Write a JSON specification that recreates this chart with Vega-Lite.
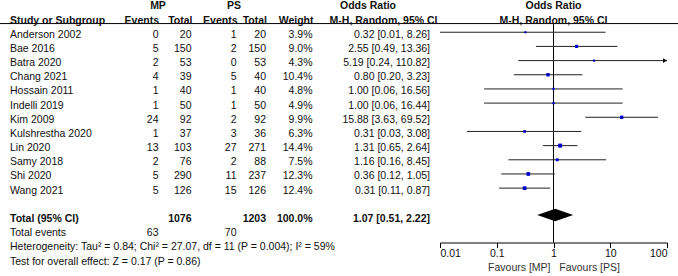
{
  "$schema": "https://vega.github.io/schema/vega-lite/v6.json",
  "width": 678,
  "height": 276,
  "padding": 0,
  "autosize": {"type": "none"},
  "background": "white",
  "config": {
    "view": {"stroke": null},
    "text": {"font": "Liberation Sans", "fontSize": 10.5, "color": "#111"},
    "axis": {"labelFont": "Liberation Sans", "titleFont": "Liberation Sans"}
  },
  "datasets": {
    "studies": [
      {"row": "Anderson 2002", "mp_e": 0, "mp_n": 20, "ps_e": 1, "ps_n": 20, "weight": 0.039, "or": 0.32, "lo": 0.01, "hi": 8.26, "ci": "0.32 [0.01, 8.26]"},
      {"row": "Bae 2016", "mp_e": 5, "mp_n": 150, "ps_e": 2, "ps_n": 150, "weight": 0.090, "or": 2.55, "lo": 0.49, "hi": 13.36, "ci": "2.55 [0.49, 13.36]"},
      {"row": "Batra 2020", "mp_e": 2, "mp_n": 53, "ps_e": 0, "ps_n": 53, "weight": 0.043, "or": 5.19, "lo": 0.24, "hi": 110.82, "ci": "5.19 [0.24, 110.82]"},
      {"row": "Chang 2021", "mp_e": 4, "mp_n": 39, "ps_e": 5, "ps_n": 40, "weight": 0.104, "or": 0.80, "lo": 0.20, "hi": 3.23, "ci": "0.80 [0.20, 3.23]"},
      {"row": "Hossain 2011", "mp_e": 1, "mp_n": 40, "ps_e": 1, "ps_n": 40, "weight": 0.048, "or": 1.00, "lo": 0.06, "hi": 16.56, "ci": "1.00 [0.06, 16.56]"},
      {"row": "Indelli 2019", "mp_e": 1, "mp_n": 50, "ps_e": 1, "ps_n": 50, "weight": 0.049, "or": 1.00, "lo": 0.06, "hi": 16.44, "ci": "1.00 [0.06, 16.44]"},
      {"row": "Kim 2009", "mp_e": 24, "mp_n": 92, "ps_e": 2, "ps_n": 92, "weight": 0.099, "or": 15.88, "lo": 3.63, "hi": 69.52, "ci": "15.88 [3.63, 69.52]"},
      {"row": "Kulshrestha 2020", "mp_e": 1, "mp_n": 37, "ps_e": 3, "ps_n": 36, "weight": 0.063, "or": 0.31, "lo": 0.03, "hi": 3.08, "ci": "0.31 [0.03, 3.08]"},
      {"row": "Lin 2020", "mp_e": 13, "mp_n": 103, "ps_e": 27, "ps_n": 271, "weight": 0.144, "or": 1.31, "lo": 0.65, "hi": 2.64, "ci": "1.31 [0.65, 2.64]"},
      {"row": "Samy 2018", "mp_e": 2, "mp_n": 76, "ps_e": 2, "ps_n": 88, "weight": 0.075, "or": 1.16, "lo": 0.16, "hi": 8.45, "ci": "1.16 [0.16, 8.45]"},
      {"row": "Shi 2020", "mp_e": 5, "mp_n": 290, "ps_e": 11, "ps_n": 237, "weight": 0.123, "or": 0.36, "lo": 0.12, "hi": 1.05, "ci": "0.36 [0.12, 1.05]"},
      {"row": "Wang 2021", "mp_e": 5, "mp_n": 126, "ps_e": 15, "ps_n": 126, "weight": 0.124, "or": 0.31, "lo": 0.11, "hi": 0.87, "ci": "0.31 [0.11, 0.87]"}
    ],
    "total": [
      {"row": "Total (95% CI)", "mp_n": 1076, "ps_n": 1203, "weight": 1.0, "or": 1.07, "lo": 0.51, "hi": 2.22, "ci": "1.07 [0.51, 2.22]"}
    ],
    "events": [
      {"row": "Total events", "mp": 63, "ps": 70}
    ],
    "notes": [
      {"row": "Heterogeneity", "text": "Heterogeneity: Tau² = 0.84; Chi² = 27.07, df = 11 (P = 0.004); I² = 59%"},
      {"row": "Test", "text": "Test for overall effect: Z = 0.17 (P = 0.86)"}
    ],
    "headers": [
      {"row": "h1", "col": "mp", "text": "MP"},
      {"row": "h1", "col": "ps", "text": "PS"},
      {"row": "h1", "col": "or", "text": "Odds Ratio"},
      {"row": "h1", "col": "forest", "text": "Odds Ratio"},
      {"row": "h2", "col": "study", "text": "Study or Subgroup"},
      {"row": "h2", "col": "mp_e", "text": "Events"},
      {"row": "h2", "col": "mp_n", "text": "Total"},
      {"row": "h2", "col": "ps_e", "text": "Events"},
      {"row": "h2", "col": "ps_n", "text": "Total"},
      {"row": "h2", "col": "weight", "text": "Weight"},
      {"row": "h2", "col": "or", "text": "M-H, Random, 95% CI"},
      {"row": "h2", "col": "forest", "text": "M-H, Random, 95% CI"}
    ]
  },
  "encoding": {
    "y": {
      "field": "row", "type": "nominal", "axis": null,
      "scale": {
        "type": "point", "padding": 0, "range": [6.4, 261.5],
        "domain": ["h1", "h2", "Anderson 2002", "Bae 2016", "Batra 2020", "Chang 2021", "Hossain 2011", "Indelli 2019", "Kim 2009", "Kulshrestha 2020", "Lin 2020", "Samy 2018", "Shi 2020", "Wang 2021", "gap", "Total (95% CI)", "Total events", "Heterogeneity", "Test"]
      }
    }
  },
  "layer": [
    {
      "layer": [
        {"data": {"name": "headers"}, "transform": [{"filter": "datum.col == 'study'"}],
         "mark": {"type": "rule", "color": "#000", "strokeWidth": 1, "yOffset": 3},
         "encoding": {"y": {"datum": "h2", "type": "nominal"}}},
        {"data": {"name": "headers"}, "transform": [{"filter": "datum.col == 'study'"}],
         "mark": {"type": "text", "align": "left", "fontWeight": "bold"},
         "encoding": {"x": {"datum": 10, "type": "quantitative", "scale": {"domain": [0, 678]}, "axis": null}, "text": {"field": "text"}}},
        {"data": {"name": "headers"}, "transform": [{"filter": "datum.col == 'mp'"}],
         "mark": {"type": "text", "align": "center", "fontWeight": "bold"},
         "encoding": {"x": {"datum": 158, "type": "quantitative", "scale": {"domain": [0, 678]}, "axis": null}, "text": {"field": "text"}}},
        {"data": {"name": "headers"}, "transform": [{"filter": "datum.col == 'ps'"}],
         "mark": {"type": "text", "align": "center", "fontWeight": "bold"},
         "encoding": {"x": {"datum": 234, "type": "quantitative", "scale": {"domain": [0, 678]}, "axis": null}, "text": {"field": "text"}}},
        {"data": {"name": "headers"}, "transform": [{"filter": "datum.col == 'mp_e'"}],
         "mark": {"type": "text", "align": "right", "fontWeight": "bold"},
         "encoding": {"x": {"datum": 159, "type": "quantitative", "scale": {"domain": [0, 678]}, "axis": null}, "text": {"field": "text"}}},
        {"data": {"name": "headers"}, "transform": [{"filter": "datum.col == 'mp_n'"}],
         "mark": {"type": "text", "align": "right", "fontWeight": "bold"},
         "encoding": {"x": {"datum": 192.5, "type": "quantitative", "scale": {"domain": [0, 678]}, "axis": null}, "text": {"field": "text"}}},
        {"data": {"name": "headers"}, "transform": [{"filter": "datum.col == 'ps_e'"}],
         "mark": {"type": "text", "align": "right", "fontWeight": "bold"},
         "encoding": {"x": {"datum": 237.5, "type": "quantitative", "scale": {"domain": [0, 678]}, "axis": null}, "text": {"field": "text"}}},
        {"data": {"name": "headers"}, "transform": [{"filter": "datum.col == 'ps_n'"}],
         "mark": {"type": "text", "align": "right", "fontWeight": "bold"},
         "encoding": {"x": {"datum": 267, "type": "quantitative", "scale": {"domain": [0, 678]}, "axis": null}, "text": {"field": "text"}}},
        {"data": {"name": "headers"}, "transform": [{"filter": "datum.col == 'weight'"}],
         "mark": {"type": "text", "align": "right", "fontWeight": "bold"},
         "encoding": {"x": {"datum": 313.5, "type": "quantitative", "scale": {"domain": [0, 678]}, "axis": null}, "text": {"field": "text"}}},
        {"data": {"name": "headers"}, "transform": [{"filter": "datum.col == 'or' && datum.row == 'h1'"}],
         "mark": {"type": "text", "align": "center", "fontWeight": "bold"},
         "encoding": {"x": {"datum": 368, "type": "quantitative", "scale": {"domain": [0, 678]}, "axis": null}, "text": {"field": "text"}}},
        {"data": {"name": "headers"}, "transform": [{"filter": "datum.col == 'or' && datum.row == 'h2'"}],
         "mark": {"type": "text", "align": "right", "fontWeight": "bold"},
         "encoding": {"x": {"datum": 437.5, "type": "quantitative", "scale": {"domain": [0, 678]}, "axis": null}, "text": {"field": "text"}}},

        {"data": {"name": "studies"}, "mark": {"type": "text", "align": "left"},
         "encoding": {"x": {"datum": 10, "type": "quantitative", "scale": {"domain": [0, 678]}, "axis": null}, "text": {"field": "row"}}},
        {"data": {"name": "studies"}, "mark": {"type": "text", "align": "right"},
         "encoding": {"x": {"datum": 158.5, "type": "quantitative", "scale": {"domain": [0, 678]}, "axis": null}, "text": {"field": "mp_e"}}},
        {"data": {"name": "studies"}, "mark": {"type": "text", "align": "right"},
         "encoding": {"x": {"datum": 191.5, "type": "quantitative", "scale": {"domain": [0, 678]}, "axis": null}, "text": {"field": "mp_n"}}},
        {"data": {"name": "studies"}, "mark": {"type": "text", "align": "right"},
         "encoding": {"x": {"datum": 236.5, "type": "quantitative", "scale": {"domain": [0, 678]}, "axis": null}, "text": {"field": "ps_e"}}},
        {"data": {"name": "studies"}, "mark": {"type": "text", "align": "right"},
         "encoding": {"x": {"datum": 266, "type": "quantitative", "scale": {"domain": [0, 678]}, "axis": null}, "text": {"field": "ps_n"}}},
        {"data": {"name": "studies"}, "mark": {"type": "text", "align": "right"},
         "encoding": {"x": {"datum": 312.5, "type": "quantitative", "scale": {"domain": [0, 678]}, "axis": null}, "text": {"field": "weight", "type": "quantitative", "format": ".1%"}}},
        {"data": {"name": "studies"}, "mark": {"type": "text", "align": "right"},
         "encoding": {"x": {"datum": 430, "type": "quantitative", "scale": {"domain": [0, 678]}, "axis": null}, "text": {"field": "ci"}}},

        {"data": {"name": "total"}, "mark": {"type": "text", "align": "left", "fontWeight": "bold"},
         "encoding": {"x": {"datum": 10, "type": "quantitative", "scale": {"domain": [0, 678]}, "axis": null}, "text": {"field": "row"}}},
        {"data": {"name": "total"}, "mark": {"type": "text", "align": "right", "fontWeight": "bold"},
         "encoding": {"x": {"datum": 191.5, "type": "quantitative", "scale": {"domain": [0, 678]}, "axis": null}, "text": {"field": "mp_n"}}},
        {"data": {"name": "total"}, "mark": {"type": "text", "align": "right", "fontWeight": "bold"},
         "encoding": {"x": {"datum": 266, "type": "quantitative", "scale": {"domain": [0, 678]}, "axis": null}, "text": {"field": "ps_n"}}},
        {"data": {"name": "total"}, "mark": {"type": "text", "align": "right", "fontWeight": "bold"},
         "encoding": {"x": {"datum": 312.5, "type": "quantitative", "scale": {"domain": [0, 678]}, "axis": null}, "text": {"field": "weight", "type": "quantitative", "format": ".1%"}}},
        {"data": {"name": "total"}, "mark": {"type": "text", "align": "right", "fontWeight": "bold"},
         "encoding": {"x": {"datum": 430, "type": "quantitative", "scale": {"domain": [0, 678]}, "axis": null}, "text": {"field": "ci"}}},

        {"data": {"name": "events"}, "mark": {"type": "text", "align": "left"},
         "encoding": {"x": {"datum": 10, "type": "quantitative", "scale": {"domain": [0, 678]}, "axis": null}, "text": {"field": "row"}}},
        {"data": {"name": "events"}, "mark": {"type": "text", "align": "right"},
         "encoding": {"x": {"datum": 158.5, "type": "quantitative", "scale": {"domain": [0, 678]}, "axis": null}, "text": {"field": "mp"}}},
        {"data": {"name": "events"}, "mark": {"type": "text", "align": "right"},
         "encoding": {"x": {"datum": 236.5, "type": "quantitative", "scale": {"domain": [0, 678]}, "axis": null}, "text": {"field": "ps"}}},

        {"data": {"name": "notes"}, "mark": {"type": "text", "align": "left"},
         "encoding": {"x": {"datum": 10, "type": "quantitative", "scale": {"domain": [0, 678]}, "axis": null}, "text": {"field": "text"}}}
      ]
    },
    {"data": {"name": "headers"}, "transform": [{"filter": "datum.col == 'forest'"}],
     "mark": {"type": "text", "align": "center", "fontWeight": "bold"},
     "encoding": {"x": {"datum": 1, "type": "quantitative", "scale": {"type": "log", "domain": [0.01, 100], "range": [440, 667], "clamp": true, "nice": false}, "axis": null}, "text": {"field": "text"}}},
    {"data": {"name": "total"},
     "mark": {"type": "rule", "color": "#000", "strokeWidth": 1, "yOffset": 3, "y2Offset": 9.4},
     "encoding": {
       "x": {"datum": 1, "type": "quantitative", "scale": {"type": "log", "domain": [0.01, 100], "range": [440, 667], "clamp": true, "nice": false}, "axis": null},
       "y": {"datum": "h2", "type": "nominal"},
       "y2": {"datum": "Total events"}
     }},
    {"data": {"name": "studies"},
     "mark": {"type": "rule", "color": "#222", "strokeWidth": 1, "yOffset": -2.5},
     "encoding": {
       "x": {"field": "lo", "type": "quantitative", "scale": {"type": "log", "domain": [0.01, 100], "range": [440, 667], "clamp": true, "nice": false}, "axis": null},
       "x2": {"field": "hi"}
     }},
    {"data": {"name": "studies"}, "transform": [{"filter": "datum.hi > 100"}],
     "mark": {"type": "point", "shape": "triangle-right", "filled": true, "color": "#000", "size": 22, "opacity": 1, "xOffset": -2, "yOffset": -2.5},
     "encoding": {
       "x": {"field": "hi", "type": "quantitative", "scale": {"type": "log", "domain": [0.01, 100], "range": [440, 667], "clamp": true, "nice": false}, "axis": null}
     }},
    {"data": {"name": "studies"},
     "mark": {"type": "square", "filled": true, "color": "#0000cc", "opacity": 1, "yOffset": -2.5},
     "encoding": {
       "x": {"field": "or", "type": "quantitative",
             "scale": {"type": "log", "domain": [0.01, 100], "range": [440, 667], "clamp": true, "nice": false},
             "axis": {"orient": "bottom", "offset": -33.5, "values": [0.01, 0.1, 1, 10, 100], "format": "~g",
                      "grid": false, "domain": true, "ticks": true, "labels": true,
                      "domainColor": "#000", "domainWidth": 1, "tickColor": "#000", "tickSize": 5, "tickWidth": 1,
                      "labelFlush": true, "labelFontSize": 10.5, "labelColor": "#111", "labelPadding": 1,
                      "title": "Favours [MP]\u00a0\u00a0 Favours [PS]", "titleFontSize": 10.5, "titleFontWeight": "normal", "titleColor": "#333", "titlePadding": 3}},
       "size": {"field": "weight", "type": "quantitative", "scale": {"domain": [0, 0.144], "range": [0, 16]}, "legend": null}
     }},
    {"data": {"name": "total"},
     "mark": {"type": "point", "shape": "M-1,0L0,-0.35L1,0L0,0.35Z", "filled": true, "color": "#000", "opacity": 1, "size": 1296, "yOffset": -4},
     "encoding": {
       "x": {"field": "or", "type": "quantitative", "scale": {"type": "log", "domain": [0.01, 100], "range": [440, 667], "clamp": true, "nice": false}, "axis": null}
     }}
  ],
  "resolve": {"scale": {"x": "independent"}, "axis": {"x": "independent"}}
}
